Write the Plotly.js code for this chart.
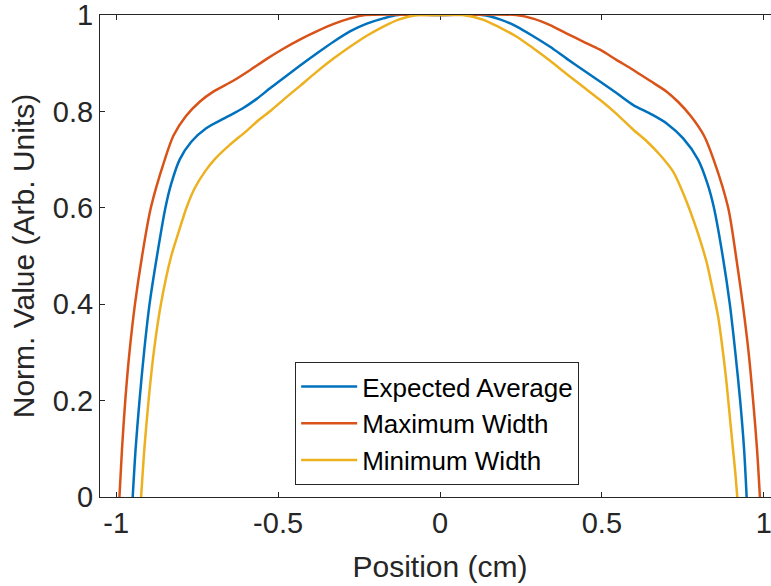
<!DOCTYPE html>
<html><head>
<script src="https://cdn.plot.ly/plotly-3.0.1.min.js"></script>
<style>html,body{margin:0;padding:0;overflow:hidden;background:#fff}#chart{width:790px;height:586px}</style>
</head><body><div id="chart"></div>
<script>
// Expected Average
const avgX = [-0.949,-0.940,-0.928,-0.914,-0.897,-0.874,-0.848,-0.830,-0.804,-0.768,-0.722,-0.665,-0.610,-0.566,-0.525,-0.484,-0.432,-0.381,-0.330,-0.278,-0.226,-0.175,-0.130,0,
              0.130,0.185,0.237,0.288,0.340,0.390,0.442,0.494,0.545,0.597,0.650,0.700,0.751,0.797,0.826,0.846,0.873,0.895,0.912,0.927,0.939,0.947];
const avgY = [0,0.1,0.2,0.3,0.4,0.5,0.6,0.65,0.7,0.737,0.765,0.786,0.806,0.826,0.848,0.869,0.895,0.920,0.944,0.966,0.982,0.993,1,1,
              1,0.991,0.976,0.956,0.934,0.910,0.886,0.862,0.838,0.813,0.795,0.775,0.744,0.7,0.65,0.6,0.5,0.4,0.3,0.2,0.1,0];
// Maximum Width
const maxX = [-0.990,-0.982,-0.972,-0.959,-0.942,-0.920,-0.893,-0.850,-0.823,-0.785,-0.742,-0.700,-0.640,-0.586,-0.535,-0.484,-0.430,-0.381,-0.330,-0.278,-0.231,0,
              0.235,0.290,0.340,0.390,0.442,0.494,0.545,0.597,0.650,0.700,0.735,0.775,0.815,0.845,0.890,0.914,0.935,0.953,0.967,0.979,0.988];
const maxY = [0,0.1,0.2,0.3,0.4,0.5,0.6,0.7,0.75,0.79,0.82,0.841,0.863,0.886,0.909,0.930,0.950,0.966,0.981,0.993,1,1,
              1,0.992,0.979,0.962,0.945,0.928,0.907,0.886,0.863,0.841,0.82,0.79,0.75,0.7,0.6,0.5,0.4,0.3,0.2,0.1,0];
// Minimum Width
const minX = [-0.923,-0.913,-0.900,-0.884,-0.862,-0.830,-0.807,-0.783,-0.758,-0.726,-0.694,-0.650,-0.600,-0.560,-0.520,-0.484,-0.432,-0.381,-0.330,-0.278,-0.226,-0.175,-0.130,-0.095,-0.060,0,
              0.070,0.134,0.185,0.237,0.288,0.340,0.390,0.442,0.494,0.545,0.597,0.640,0.679,0.720,0.756,0.787,0.823,0.842,0.859,0.874,0.885,0.896,0.905,0.912,0.918];
const minY = [0,0.1,0.2,0.3,0.4,0.5,0.55,0.6,0.64,0.675,0.702,0.730,0.758,0.782,0.803,0.824,0.853,0.882,0.909,0.934,0.957,0.976,0.990,0.997,1,1,
              1,0.990,0.974,0.955,0.931,0.905,0.878,0.851,0.824,0.795,0.762,0.737,0.710,0.675,0.622,0.566,0.488,0.43,0.374,0.30,0.236,0.16,0.098,0.05,0];

const seriesNames = ['Expected Average','Maximum Width','Minimum Width'];
const colors = ['#0072BD','#D95319','#EDB120'];
const xTicks = [-1,-0.5,0,0.5,1];
const xTickText = ['-1','-0.5','0','0.5','1'];
const yTicks = [0,0.2,0.4,0.6,0.8,1];
const yTickText = ['0','0.2','0.4','0.6','0.8','1'];

const font = 'Liberation Sans, Arial, Helvetica, sans-serif';
const xs=[avgX,maxX,minX], ys=[avgY,maxY,minY];
const data = xs.map((x,i)=>({x:x,y:ys[i],type:'scatter',mode:'lines',name:seriesNames[i],
  line:{color:colors[i],width:2.5,shape:'spline',smoothing:0.8},cliponaxis:false}));

const axisBase = {showline:true,linecolor:'#262626',linewidth:1,mirror:'ticks',ticks:'inside',ticklen:5,tickwidth:1,
  tickcolor:'#262626',showgrid:false,zeroline:false,layer:'below traces',ticklabeloverflow:'allow',
  tickfont:{family:font,size:29,color:'#262626'}};
const layout = {
  width:790,height:586,margin:{l:100,r:10,t:15,b:89},paper_bgcolor:'#fff',plot_bgcolor:'#fff',
  xaxis:Object.assign({},axisBase,{range:[-1.05,1.05],tickvals:xTicks,ticktext:xTickText,
    title:{text:'Position (cm)',font:{family:font,size:30,color:'#262626'},standoff:18}}),
  yaxis:Object.assign({},axisBase,{range:[0,1],tickvals:yTicks,ticktext:yTickText,
    title:{text:'Norm. Value (Arb. Units)',font:{family:font,size:30,color:'#262626'},standoff:9}}),
  showlegend:true,
  legend:{x:0.287,y:0.280,xanchor:'left',yanchor:'top',bgcolor:'#fff',bordercolor:'#262626',borderwidth:1,
    font:{family:font,size:26,color:'#000'},itemwidth:56,tracegroupgap:0}
};
Plotly.newPlot('chart',data,layout,{staticPlot:true,displayModeBar:false});
</script></body></html>
